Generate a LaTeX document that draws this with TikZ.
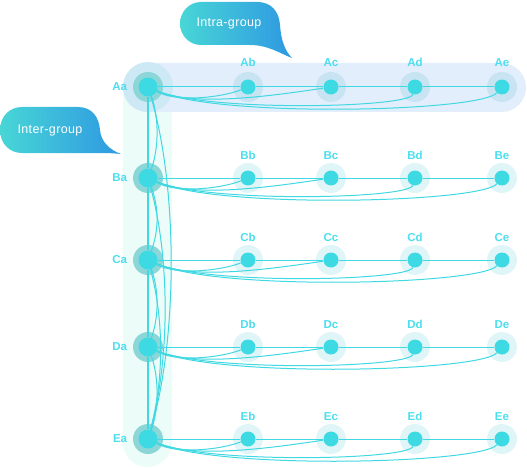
\documentclass[tikz,border=0pt]{standalone}
\usepackage{fontspec}
\setmainfont{Liberation Sans}
\usetikzlibrary{positioning}
\pgfdeclarelayer{background}
\pgfsetlayers{background,main}
\definecolor{nodecyan}{RGB}{61,218,227}
\definecolor{linecyan}{RGB}{64,216,226}
\definecolor{labelcyan}{RGB}{76,222,238}
\definecolor{ringteal}{RGB}{140,214,216}
\definecolor{haloblue}{RGB}{200,228,242}
\definecolor{halomint}{RGB}{224,245,248}
\definecolor{rowband}{RGB}{226,238,252}
\definecolor{colband}{RGB}{236,252,248}
\definecolor{outerring}{RGB}{204,233,245}
\definecolor{bubteal}{RGB}{72,214,214}
\definecolor{bubblue}{RGB}{46,152,226}

\begin{document}
\begin{tikzpicture}[x=1pt,y=-1pt,
  hub/.style={circle,fill=nodecyan,minimum size=19pt,inner sep=0pt},
  member/.style={circle,fill=nodecyan,minimum size=15pt,inner sep=0pt},
  lbl/.style={text=labelcyan,font=\fontsize{11.5}{13}\selectfont\bfseries,inner sep=0pt},
  link/.style={linecyan,line width=1pt},
  bubble/.style={left color=bubteal,right color=bubblue},
  bubbletext/.style={text=white,font=\fontsize{12.5}{14}\selectfont\addfontfeatures{LetterSpace=3}}]
  \useasboundingbox (0,0) rectangle (527,468);

  % groups and members
  \foreach \grp/\y/\dist in {A/87/12.5,B/178/10.5,C/260/10.5,D/347/10.5,E/439/10.5}{
    \node[hub,label={[lbl,label distance=11pt]left:\grp a}] (\grp a) at (148,\y) {};
    \foreach \mem/\x in {b/248,c/331,d/415,e/502}
      \node[member,label={[lbl,label distance=\dist pt]above:\grp\mem}] (\grp\mem) at (\x,\y) {};
  }

  % bands and halos
  \begin{pgfonlayer}{background}
    \fill[colband,rounded corners=24.5pt] (123,63) rectangle (172,467);
    \fill[rowband,rounded corners=24.5pt] (123,63) rectangle (526,112);
    \fill[outerring] (Aa) circle (25pt);
    \foreach \grp/\halo in {A/haloblue,B/halomint,C/halomint,D/halomint,E/halomint}{
      \fill[ringteal] (\grp a) circle (15pt);
      \foreach \mem in {b,c,d,e}
        \fill[\halo] (\grp\mem) circle (15pt);
    }
  \end{pgfonlayer}

  % intra-group links
  \foreach \grp in {A,B,C,D,E}{
    \draw[link] (\grp a) -- (\grp b) -- (\grp c) -- (\grp d) -- (\grp e);
    \draw[link] (\grp a) .. controls +(30,16) and +(-25,10) .. (\grp b);
    \draw[link] (\grp a) .. controls +(45,20) and +(-60,9) .. (\grp c);
    \draw[link] (\grp a) .. controls +(60,25) and +(-6,21) .. (\grp d);
    \draw[link] (\grp a) .. controls +(70,31) and +(-22,25) .. (\grp e);
  }

  % inter-group links
  \draw[link,line width=1.6pt] (Aa) -- (Ba) -- (Ca) -- (Da) -- (Ea);
  \draw[link] (Aa) .. controls +(11,30) and +(11,-30) .. (Ba);
  \draw[link] (Ba) .. controls +(11,30) and +(11,-30) .. (Ca);
  \draw[link] (Ca) .. controls +(11,30) and +(11,-30) .. (Da);
  \draw[link] (Da) .. controls +(11,30) and +(11,-30) .. (Ea);
  \draw[link] (Ca) .. controls +(16,60) and +(16,-60) .. (Ea);
  \draw[link] (Ba) .. controls +(22,80) and +(22,-80) .. (Ea);
  \draw[link] (Aa) .. controls +(30,100) and +(30,-100) .. (Ea);

  % callouts
  \shade[bubble] (201,2) -- (257,2) .. controls (272,2) and (279,12) .. (280,25)
    .. controls (281,40) and (285,51) .. (292,58) .. controls (279,53) and (268,45) .. (250,45)
    -- (201,45) .. controls (189,45) and (180,35) .. (180,23.5)
    .. controls (180,12) and (189,2) .. (201,2) -- cycle;
  \node[bubbletext] (intra) at (229,23) {Intra-group};

  \shade[bubble] (22,107) -- (78,107) .. controls (92,107) and (99,117) .. (100,130)
    .. controls (101,142) and (110,150) .. (121,154) .. controls (110,153) .. (90,153)
    -- (22,153) .. controls (9,153) and (0,143) .. (0,130)
    .. controls (0,117) and (9,107) .. (22,107) -- cycle;
  \node[bubbletext] (inter) at (50,130) {Inter-group};
\end{tikzpicture}
\end{document}
